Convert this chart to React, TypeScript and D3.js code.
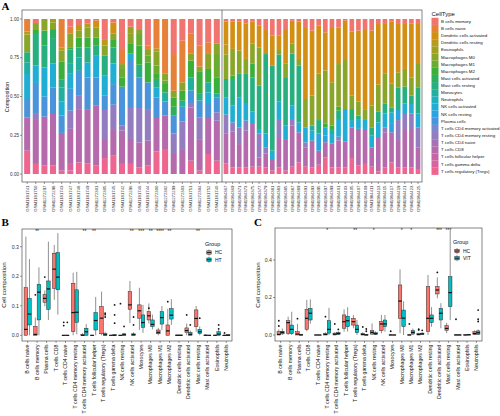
import React from "react";
import * as d3 from "d3";

const FONT = "Liberation Sans, Arial, Helvetica, sans-serif";
const SERIF = "Liberation Serif, Times New Roman, serif";

const cellTypes = [
  "B cells memory", "B cells naive", "Dendritic cells activated", "Dendritic cells resting",
  "Eosinophils", "Macrophages M0", "Macrophages M1", "Macrophages M2",
  "Mast cells activated", "Mast cells resting", "Monocytes", "Neutrophils",
  "NK cells activated", "NK cells resting", "Plasma cells", "T cells CD4 memory activated",
  "T cells CD4 memory resting", "T cells CD4 naive", "T cells CD8", "T cells follicular helper",
  "T cells gamma delta", "T cells regulatory (Tregs)",
];

const cellColors = [
  "#F07470", "#E6813A", "#D28F14", "#B89A1C", "#A09F22", "#8AA62A", "#6AAB30", "#3AAF3A",
  "#2EAF5E", "#28AF80", "#22AFA0", "#20AFBC", "#20AED4", "#2AA3E0", "#4A94DC", "#7A88CC",
  "#937CC0", "#A572B4", "#B46AAC", "#C565A5", "#DA639F", "#EE6690",
];

const samplesHT = [
  "GSM1181741", "GSM1181750", "GSM1272297", "GSM1272298", "GSM1181743", "GSM1181747",
  "GSM1181748", "GSM1181749", "GSM1272301", "GSM1272305", "GSM1181745", "GSM1181742",
  "GSM1272296", "GSM1181746", "GSM1181744", "GSM1272300", "GSM1272302", "GSM1272299",
  "GSM1272303", "GSM1181751", "GSM1272304", "GSM1181752", "GSM1181740",
];

const samplesVIT = [
  "GSM1984367", "GSM1984369", "GSM1984371", "GSM1984373", "GSM1984375", "GSM1984377",
  "GSM1984379", "GSM1984381", "GSM1984383", "GSM1984385", "GSM1984387", "GSM1984389",
  "GSM1984391", "GSM1984393", "GSM1984395", "GSM1984397", "GSM1984399", "GSM1984401",
  "GSM1984403", "GSM1984405", "GSM1984407", "GSM1984409", "GSM1984411", "GSM1984413",
  "GSM1984415", "GSM1984417", "GSM1984419", "GSM1984421", "GSM1984423", "GSM1984425",
];

// composition per sample (22 cell types, order of cellTypes)
const compHT = [
  [0, 8, 0, 2, 0, 11.4, 0, 0, 0, 6.5, 7.5, 0, 16.1, 0, 11.8, 0, 0, 0, 21.5, 0, 0, 15],
  [2.6, 0, 0, 0, 0, 4.5, 0, 2.6, 0, 20.4, 0, 0, 11.2, 0, 20, 0, 3.9, 0, 28.4, 0, 0, 6.5],
  [0, 0, 0, 0, 0, 7.5, 0, 0, 9.7, 14, 0, 0, 18.9, 0, 12.9, 0, 0, 0, 31.6, 0, 0, 5.4],
  [0, 0, 0, 0, 2.2, 4.3, 0, 0, 5.8, 16.3, 0, 0, 15.5, 0, 17.2, 0, 0, 0, 33.3, 0, 0, 5.4],
  [0, 18.3, 0, 2.2, 0, 7.1, 0, 11.6, 0, 4.9, 9, 0, 9.2, 0, 11.2, 0, 0, 0, 24.3, 0, 0, 2.2],
  [4.9, 4.3, 0, 0, 0, 9, 0, 1.5, 0, 9.2, 6, 0, 10.1, 0, 14, 0, 11.8, 0, 22.6, 0, 4.3, 2.2],
  [3.9, 0, 0, 3.7, 0, 4.3, 0, 6.5, 0, 6.5, 8.6, 0, 0, 0, 16.1, 0, 8.6, 0, 34.4, 0, 0, 7.5],
  [2.8, 0, 0, 2.6, 0, 6.5, 0, 6.5, 0, 9.7, 0, 0, 9.7, 0, 20.4, 0, 0, 0, 35, 0, 0, 6.9],
  [1.1, 0, 4.3, 0, 0, 6.5, 0, 5.4, 0, 6.5, 0, 0, 14, 0, 18.3, 0, 0, 0, 38.7, 0, 0, 5.4],
  [13.5, 0, 0, 3.7, 0, 6.5, 0, 0, 0, 12.9, 0, 0, 12.9, 0, 9.2, 0, 18.7, 0, 12.3, 0, 0, 10.3],
  [2.2, 0, 7.1, 0, 0, 3.7, 0, 5.4, 0, 10.3, 0, 0, 13.3, 0, 13.3, 0, 15.7, 0, 17.2, 0, 0, 11.8],
  [19.4, 9.7, 0, 0, 0, 2.6, 6, 6, 0, 0, 0, 0, 0, 0, 25.2, 0, 3.2, 0, 21.5, 0, 0, 6.5],
  [4.9, 0, 0, 0, 4.7, 6, 0, 6.5, 0, 0, 0, 0, 3.7, 0, 31.6, 0, 20, 0, 16.1, 0, 0, 6.5],
  [7.1, 0, 0, 0, 0, 2.6, 7.5, 12.3, 0, 8.2, 0, 0, 0, 0, 19.8, 0, 22.2, 0, 16.1, 0, 0, 4.3],
  [17.2, 2.8, 0, 0, 0, 3.7, 4.3, 12.9, 0, 0, 0, 0, 0, 0, 17.2, 0, 20.4, 0, 16.1, 0, 0, 5.4],
  [0, 18.9, 0, 1.9, 0, 9.2, 4.9, 3.7, 0, 5.4, 0, 0, 6.5, 0, 13.3, 0, 0, 0, 21.5, 0, 0, 14.6],
  [0, 35, 0, 0, 0, 4.7, 2.2, 5.4, 0, 0, 5.8, 0, 0, 0, 9.2, 0, 0, 0, 21.5, 0, 0, 16.1],
  [22.6, 23.7, 0, 0, 0, 4.3, 0, 6, 5.8, 0, 0, 0, 0, 0, 11.4, 0, 13.3, 0, 12.9, 0, 0, 0],
  [14, 26.9, 0, 0, 0, 5.4, 0, 6.5, 0, 0, 3.9, 0, 0, 0, 9.5, 0, 17.8, 0, 16.1, 0, 0, 0],
  [9.2, 12.9, 0, 0, 0, 4.7, 0, 10.8, 0, 0, 8.6, 0, 0, 0, 8.6, 0, 2.2, 0, 34.4, 0, 0, 8.6],
  [17.2, 13.5, 0, 0, 0, 3, 0, 14.6, 0, 4.3, 0, 0, 0, 0, 10.8, 0, 14.6, 0, 19.8, 0, 0, 2.2],
  [15, 7.5, 0, 0, 0, 9.7, 0, 8.6, 0, 0, 6.5, 0, 7.5, 0, 9, 0, 0, 0, 23.2, 0, 0, 12.9],
  [15.7, 0, 0, 0, 0, 6.9, 15, 10.3, 0, 0, 2.6, 0, 0, 0, 9.7, 0, 5.4, 0, 25.8, 0, 0, 8.6],
];

const compVIT = [
  [1.5, 0, 15, 6.5, 0, 15.7, 0, 0, 0, 11.8, 0, 0, 11.2, 0, 0, 0, 12, 0, 19.4, 0, 0, 6.9],
  [1.5, 0, 17.8, 0, 0, 17.2, 0, 2.2, 0, 17.2, 0, 0, 10.8, 0, 0, 0, 5.8, 0, 23.2, 0, 0, 4.3],
  [1.5, 0, 18.9, 0, 0, 14.6, 0, 0, 0, 15.5, 0, 0, 19.4, 0, 0, 0, 10.8, 0, 15, 0, 0, 4.3],
  [2.8, 0, 23, 0, 0, 9.7, 0, 0, 0, 19.4, 0, 0, 10.8, 0, 0, 0, 6.5, 0, 23.7, 0, 0, 4.3],
  [1.5, 0, 14.2, 0, 0, 12.9, 0, 9, 0, 21.9, 0, 0, 8.2, 0, 0, 0, 0, 0, 27.5, 0, 0, 4.7],
  [4.3, 0, 14, 0, 0, 24.7, 0, 0, 0, 28, 0, 0, 2.8, 0, 0, 0, 15.5, 0, 6, 0, 0, 4.7],
  [6.5, 0, 16.1, 0, 0, 0, 0, 0, 0, 51.2, 0, 0, 9, 0, 0, 0, 3.9, 0, 9, 0, 0, 4.3],
  [10.8, 0, 19.4, 0, 0, 0, 0, 0, 0, 54.8, 0, 0, 5.4, 0, 0, 0, 0, 0, 7.5, 0, 0, 2.2],
  [10.8, 0, 9.2, 0, 0, 3, 0, 0, 0, 30.1, 0, 0, 11.4, 0, 0, 0, 12.3, 0, 18.9, 0, 0, 4.3],
  [7.1, 0, 21.5, 0, 0, 9.5, 0, 0, 0, 30.8, 0, 0, 9.2, 0, 0, 0, 0, 0, 19.8, 0, 0, 2.2],
  [1.1, 0, 14.6, 0, 0, 6.5, 0, 0, 0, 33.8, 0, 0, 9.2, 0, 0, 0, 3.7, 0, 26.5, 0, 0, 4.7],
  [1.5, 0, 24.3, 0, 0, 4.3, 0, 0, 0, 36.6, 0, 0, 6.5, 0, 0, 0, 0, 0, 19.4, 0, 0, 7.5],
  [5.8, 0, 45.8, 0, 0, 18.3, 0, 0, 0, 0, 0, 0, 9.7, 0, 0, 0, 3.2, 0, 12.5, 0, 0, 4.7],
  [7.5, 0, 41.9, 0, 0, 19.4, 0, 0, 0, 0, 3.2, 0, 6.5, 0, 0, 0, 0, 0, 17.2, 0, 0, 4.3],
  [4.3, 0, 30.8, 0, 0, 30.1, 0, 0, 0, 8.6, 0, 0, 0, 11.2, 0, 0, 0, 0, 9, 0, 0, 6],
  [8.6, 0, 24.7, 0, 0, 34.4, 0, 2.2, 0, 0, 0, 0, 5.4, 4.3, 0, 0, 0, 0, 9.7, 0, 0, 10.8],
  [5.8, 0, 35, 0, 0, 28, 0, 2.2, 0, 0, 3.2, 0, 6, 0, 0, 0, 0, 0, 15.5, 0, 0, 4.3],
  [5.4, 0, 23.7, 0, 0, 27.5, 0, 2.6, 0, 6, 0, 0, 10.8, 0, 0, 0, 2.6, 0, 17.2, 0, 0, 4.3],
  [1.1, 0, 25.4, 0, 0, 31.6, 0, 0, 0, 0, 0, 0, 20.9, 0, 0, 0, 0, 0, 16.8, 0, 0, 4.3],
  [8, 0, 41.5, 0, 0, 8.6, 0, 0, 0, 7.1, 0, 0, 4.7, 0, 0, 0, 0, 0, 19.8, 0, 0, 10.3],
  [7.5, 0, 45.6, 0, 0, 9.2, 0, 0, 0, 2.8, 0, 0, 5.8, 0, 0, 0, 0, 0, 23.7, 0, 0, 5.4],
  [7.1, 0, 51.6, 0, 0, 6.5, 0, 0, 0, 0, 0, 0, 5.8, 0, 0, 0, 0, 0, 22.6, 0, 0, 6.5],
  [7.5, 0, 48.4, 0, 0, 14, 0, 0, 0, 5.4, 0, 0, 7.5, 0, 0, 0, 0, 0, 12.5, 0, 0, 4.7],
  [3.2, 0, 39.1, 0, 0, 17.2, 0, 0, 0, 7.1, 0, 0, 10.1, 0, 0, 0, 0, 0, 21.5, 0, 0, 1.7],
  [3.2, 0, 31.8, 0, 0, 19.4, 0, 0, 0, 6.5, 0, 0, 9, 0, 0, 0, 3.2, 0, 22.6, 0, 0, 4.3],
  [1.5, 0, 40, 0, 0, 15.5, 0, 0, 0, 3.2, 0, 0, 7.5, 5.4, 0, 0, 0, 0, 19.4, 0, 0, 7.5],
  [3.2, 0, 31.2, 0, 0, 9.7, 0, 0, 0, 14.6, 0, 0, 0, 6.5, 0, 0, 12.9, 0, 17.6, 0, 0, 4.3],
  [3.2, 0, 29, 0, 0, 11.4, 0, 0, 0, 10.8, 0, 0, 6.9, 0, 0, 0, 9.7, 0, 24.7, 0, 0, 4.3],
  [2.8, 0, 34.8, 0, 0, 11.8, 0, 0, 0, 5.4, 0, 0, 6, 0, 0, 0, 10.1, 0, 24.7, 0, 0, 4.3],
  [3.2, 0, 25.8, 0, 0, 15, 0, 0, 0, 16.8, 0, 0, 9, 0, 0, 0, 12.9, 0, 14, 0, 0, 3.2],
];

const boxCategories = [
  "B cells naive", "B cells memory", "Plasma cells", "T cells CD8", "T cells CD4 naive",
  "T cells CD4 memory resting", "T cells CD4 memory activated", "T cells follicular helper",
  "T cells regulatory (Tregs)", "T cells gamma delta", "NK cells resting", "NK cells activated",
  "Monocytes", "Macrophages M0", "Macrophages M1", "Macrophages M2", "Dendritic cells resting",
  "Dendritic cells activated", "Mast cells resting", "Mast cells activated", "Eosinophils", "Neutrophils",
];

// [min, q1, median, q3, max]
const statsB_HC = [
  [0, 0, 0.02, 0.161, 0.334], [0, 0, 0.003, 0.03, 0.06], [0.098, 0.112, 0.125, 0.138, 0.152],
  [0.12, 0.159, 0.224, 0.278, 0.306], [0, 0, 0, 0, 0], [0, 0.012, 0.077, 0.176, 0.212],
  [0, 0, 0, 0.003, 0.008], [0, 0, 0, 0, 0], [0, 0.005, 0.058, 0.097, 0.148],
  [0, 0, 0, 0, 0], [0, 0, 0, 0, 0], [0.041, 0.088, 0.103, 0.148, 0.184],
  [0.018, 0.058, 0.083, 0.103, 0.161], [0.04, 0.052, 0.066, 0.08, 0.108], [0, 0.005, 0.01, 0.018, 0.025],
  [0, 0, 0.015, 0.035, 0.09], [0, 0, 0, 0.001, 0.002], [0, 0.01, 0.016, 0.025, 0.04],
  [0.012, 0.029, 0.057, 0.086, 0.099], [0, 0, 0, 0.001, 0.003], [0, 0, 0, 0, 0.002], [0, 0, 0, 0, 0.002],
];
const statsB_HT = [
  [0, 0.035, 0.072, 0.125, 0.258], [0, 0.052, 0.146, 0.173, 0.23], [0.052, 0.088, 0.157, 0.184, 0.317],
  [0.07, 0.154, 0.197, 0.28, 0.346], [0, 0, 0, 0, 0], [0.003, 0.044, 0.078, 0.154, 0.215],
  [0, 0, 0.012, 0.024, 0.038], [0, 0.018, 0.05, 0.077, 0.13], [0, 0, 0.002, 0.006, 0.012],
  [0, 0, 0, 0.002, 0.004], [0, 0, 0.002, 0.005, 0.008], [0, 0, 0.002, 0.005, 0.01],
  [0.008, 0.027, 0.043, 0.069, 0.103], [0.02, 0.029, 0.037, 0.052, 0.07], [0.018, 0.038, 0.06, 0.08, 0.099],
  [0.035, 0.055, 0.068, 0.09, 0.122], [0, 0, 0, 0.001, 0.002], [0, 0, 0.003, 0.01, 0.016],
  [0, 0.006, 0.012, 0.02, 0.03], [0, 0, 0, 0, 0.001], [0, 0, 0.004, 0.012, 0.02], [0, 0, 0, 0.002, 0.004],
];
const outB_HC = [[], [0.137], [0.197], [], [0.044, 0.033], [], [], [], [], [], [0.107], [], [], [0.092], [], [0.114], [], [0.069], [], [], [], [0.008]];
const outB_HT = [[], [], [], [], [0.044], [], [], [], [0.075, 0.07, 0.062], [0.103, 0.069, 0.041], [0.03], [0.062, 0.035], [], [], [], [], [], [0.035], [0.058], [], [0.035, 0.022], []];
const starsB = ["", "**", "", "", "", "", "**", "**", "", "", "", "**", "***", "**", "****", "**", "", "", "**", "", "", ""];

const statsC_HC = [
  [0, 0, 0.003, 0.018, 0.03], [0, 0.009, 0.066, 0.076, 0.098], [0, 0, 0.005, 0.018, 0.06],
  [0.02, 0.03, 0.089, 0.137, 0.187], [0, 0, 0, 0, 0], [0, 0, 0.003, 0.008, 0.015],
  [0, 0, 0.004, 0.01, 0.015], [0.018, 0.036, 0.071, 0.107, 0.137], [0.036, 0.053, 0.071, 0.089, 0.107],
  [0, 0, 0.003, 0.008, 0.015], [0, 0.005, 0.014, 0.023, 0.062], [0.009, 0.023, 0.059, 0.071, 0.107],
  [0, 0, 0, 0.001, 0.002], [0.009, 0.089, 0.181, 0.267, 0.35], [0, 0, 0, 0.001, 0.002],
  [0, 0, 0.003, 0.008, 0.012], [0, 0.02, 0.089, 0.258, 0.32], [0.196, 0.219, 0.24, 0.258, 0.308],
  [0.01, 0.025, 0.035, 0.05, 0.065], [0, 0, 0, 0.001, 0.002], [0, 0, 0, 0.001, 0.002], [0, 0.002, 0.008, 0.018, 0.025],
];
const statsC_VIT = [
  [0, 0.006, 0.014, 0.02, 0.035], [0, 0.007, 0.03, 0.053, 0.124], [0, 0, 0, 0.003, 0.006],
  [0.06, 0.08, 0.116, 0.142, 0.19], [0, 0, 0, 0, 0], [0, 0.01, 0.03, 0.076, 0.145],
  [0, 0.003, 0.008, 0.013, 0.02], [0.018, 0.044, 0.076, 0.1, 0.148], [0, 0.012, 0.03, 0.053, 0.08],
  [0, 0, 0, 0.002, 0.004], [0, 0.003, 0.007, 0.012, 0.02], [0.018, 0.044, 0.059, 0.08, 0.107],
  [0, 0, 0, 0, 0.001], [0, 0.045, 0.09, 0.133, 0.18], [0, 0.005, 0.014, 0.023, 0.035],
  [0, 0.002, 0.006, 0.01, 0.015], [0.044, 0.066, 0.089, 0.107, 0.149], [0.036, 0.08, 0.116, 0.142, 0.17],
  [0.08, 0.151, 0.226, 0.311, 0.56], [0, 0, 0, 0.001, 0.002], [0, 0, 0.001, 0.003, 0.005], [0, 0.004, 0.012, 0.022, 0.03],
];
const outC_HC = [[0.076, 0.048], [], [0.087], [], [], [0.098], [0.059], [], [], [0.043], [], [], [0.02], [], [0.059], [0.031, 0.027], [], [0.334], [], [0.084], [], []];
const outC_VIT = [[], [], [], [], [], [], [0.03], [], [], [0.032, 0.02], [], [], [], [], [], [0.025], [], [], [], [], [], [0.133, 0.084, 0.072]];
const starsC = ["", "", "", "", "", "*", "", "", "**", "", "*", "", "", "*", "*", "", "", "***", "***", "", "", ""];

const GROUP_COLORS = ["#F8766D", "#00BFC4"];

function StackFacet({ samples, rows, x0, x1, y }: any) {
  const keys = d3.range(cellTypes.length).reverse();
  const data = rows.map((r: number[]) => {
    const o: any = {};
    r.forEach((v, i) => (o[i] = v));
    return o;
  });
  const series = d3.stack<any>().keys(keys.map(String)).offset(d3.stackOffsetExpand)(data);
  const x = d3.scaleBand().domain(samples).range([x0, x1]).paddingInner(0.3).paddingOuter(0.25);
  return (
    <g>
      {series.map((s) => (
        <g key={s.key} fill={cellColors[+s.key]}>
          {s.map((d, j) => (
            <rect key={j} x={x(samples[j])} width={x.bandwidth()} y={y(d[1])} height={Math.max(0, y(d[0]) - y(d[1]))} />
          ))}
        </g>
      ))}
      {samples.map((sm: string) => {
        const cx = (x(sm) as number) + x.bandwidth() / 2;
        return (
          <g key={sm}>
            <line x1={cx} x2={cx} y1={182} y2={184} stroke="#333" strokeWidth={0.5} />
            <text transform={`translate(${cx + 1.5},185.5) rotate(-90)`} textAnchor="end" fontSize={4.3} fill="#333" style={{ fontFamily: FONT }}>{sm}</text>
          </g>
        );
      })}
    </g>
  );
}

function BoxPanel({ stats1, stats2, out1, out2, stars, x0, x1, yTop, yBot, y, ticks, tickLabels }: any) {
  const x = d3.scaleBand().domain(boxCategories).range([x0, x1]).paddingInner(0).paddingOuter(0.1);
  const w = x.step() * 0.38;
  return (
    <g>
      <rect x={x0} y={yTop} width={x1 - x0} height={yBot - yTop} fill="white" stroke="#333" strokeWidth={0.6} />
      {ticks.map((t: number, i: number) => (
        <g key={t}>
          <line x1={x0 - 2} x2={x0} y1={y(t)} y2={y(t)} stroke="#333" strokeWidth={0.5} />
          <text x={x0 - 3} y={y(t) + 1.8} fontSize={5.2} textAnchor="end" fill="#333" style={{ fontFamily: FONT }}>{tickLabels[i]}</text>
        </g>
      ))}
      {boxCategories.map((c, i) => {
        const cx = (x(c) as number) + x.step() / 2;
        return (
          <g key={c}>
            <line x1={cx} x2={cx} y1={yBot} y2={yBot + 2} stroke="#333" strokeWidth={0.5} />
            <text transform={`translate(${cx + 1.8},${yBot + 3.5}) rotate(-90)`} textAnchor="end" fontSize={5.2} fill="#111" style={{ fontFamily: FONT }}>{c}</text>
            {stars[i] && (
              <text x={cx} y={yTop + 3.5} textAnchor="middle" fontSize={5} fill="#111" style={{ fontFamily: FONT }}>{stars[i]}</text>
            )}
            {[stats1[i], stats2[i]].map((s: number[], g: number) => {
              const bx = cx + (g === 0 ? -w : 0);
              const mx = bx + w / 2;
              const outs = g === 0 ? out1[i] : out2[i];
              return (
                <g key={g}>
                  <line x1={mx} x2={mx} y1={y(s[0])} y2={y(s[4])} stroke="#222" strokeWidth={0.5} />
                  <rect x={bx} width={w} y={y(s[3])} height={Math.max(0.01, y(s[1]) - y(s[3]))} fill={GROUP_COLORS[g]} stroke="#222" strokeWidth={0.45} />
                  <line x1={bx} x2={bx + w} y1={y(s[2])} y2={y(s[2])} stroke="#111" strokeWidth={1.2} />
                  {outs.map((o: number, k: number) => (
                    <circle key={k} cx={mx} cy={y(o)} r={0.9} fill="#111" />
                  ))}
                </g>
              );
            })}
          </g>
        );
      })}
    </g>
  );
}

function BoxLegend({ x, y, labels }: any) {
  return (
    <g style={{ fontFamily: FONT }}>
      <text x={x} y={y} fontSize={5.5} fill="#111">Group</text>
      {labels.map((l: string, i: number) => {
        const ky = y + 4 + i * 7.2;
        return (
          <g key={l}>
            <line x1={x + 4} x2={x + 4} y1={ky} y2={ky + 6} stroke="#222" strokeWidth={0.5} />
            <rect x={x + 1.8} y={ky + 1.3} width={4.4} height={3.4} fill={GROUP_COLORS[i]} stroke="#222" strokeWidth={0.45} />
            <line x1={x + 1.8} x2={x + 6.2} y1={ky + 3} y2={ky + 3} stroke="#111" strokeWidth={0.9} />
            <text x={x + 10} y={ky + 4.8} fontSize={5} fill="#111">{l}</text>
          </g>
        );
      })}
    </g>
  );
}

export default function App() {
  const yA = d3.scaleLinear().domain([0, 1]).range([174, 19]);
  const yB = d3.scaleLinear().domain([0, 0.3]).range([335.3, 246.7]);
  const yC = d3.scaleLinear().domain([0, 0.4]).range([335, 260]);
  const aTicks = [0, 0.25, 0.5, 0.75, 1];
  return (
    <svg width={500} height={416} style={{ position: "absolute", left: 0, top: 0, background: "white", fontFamily: FONT }}>
      <rect x={0} y={0} width={500} height={416} fill="white" />
      {/* Panel A */}
      <text x={1.5} y={9.5} fontSize={11} fontWeight="bold" style={{ fontFamily: SERIF }}>A</text>
      <rect x={22} y={10} width={400} height={172} fill="white" stroke="#333" strokeWidth={0.6} />
      <StackFacet samples={samplesHT} rows={compHT} x0={22} x1={222} y={yA} />
      <StackFacet samples={samplesVIT} rows={compVIT} x0={222} x1={422} y={yA} />
      <line x1={222} x2={222} y1={10} y2={182} stroke="#333" strokeWidth={0.6} />
      {aTicks.map((t) => (
        <g key={t}>
          <line x1={20} x2={22} y1={yA(t)} y2={yA(t)} stroke="#333" strokeWidth={0.5} />
          <text x={19} y={yA(t) + 1.6} fontSize={4.6} textAnchor="end" fill="#333">{d3.format(".2f")(t)}</text>
        </g>
      ))}
      <text transform="translate(9,97) rotate(-90)" textAnchor="middle" fontSize={5.5} fill="#111">Composition</text>
      {/* Legend A */}
      <text x={431.5} y={16} fontSize={6} fill="#111">CellType</text>
      {cellTypes.map((c, i) => (
        <g key={c}>
          <rect x={431.5} y={17.8 + i * 7.14} width={7} height={7.14} fill={cellColors[i]} />
          <text x={441} y={17.8 + i * 7.14 + 5} fontSize={4.4} fill="#111">{c}</text>
        </g>
      ))}

      {/* Panel B */}
      <text x={1.5} y={226} fontSize={11} fontWeight="bold" style={{ fontFamily: SERIF }}>B</text>
      <BoxPanel stats1={statsB_HC} stats2={statsB_HT} out1={outB_HC} out2={outB_HT} stars={starsB}
        x0={22} x1={232} yTop={229} yBot={341} y={yB} ticks={[0, 0.1, 0.2, 0.3]} tickLabels={["0.0", "0.1", "0.2", "0.3"]} />
      <text transform="translate(6,285) rotate(-90)" textAnchor="middle" fontSize={6.2} fill="#111">Cell composition</text>
      <BoxLegend x={205} y={245.5} labels={["HC", "HT"]} />

      {/* Panel C */}
      <text x={254} y={226} fontSize={11} fontWeight="bold" style={{ fontFamily: SERIF }}>C</text>
      <BoxPanel stats1={statsC_HC} stats2={statsC_VIT} out1={outC_HC} out2={outC_VIT} stars={starsC}
        x0={275} x1={482} yTop={228} yBot={341} y={yC} ticks={[0, 0.2, 0.4]} tickLabels={["0.0", "0.2", "0.4"]} />
      <text transform="translate(260,285) rotate(-90)" textAnchor="middle" fontSize={6.2} fill="#111">Cell composition</text>
      <BoxLegend x={453} y={244} labels={["HC", "VIT"]} />
    </svg>
  );
}
